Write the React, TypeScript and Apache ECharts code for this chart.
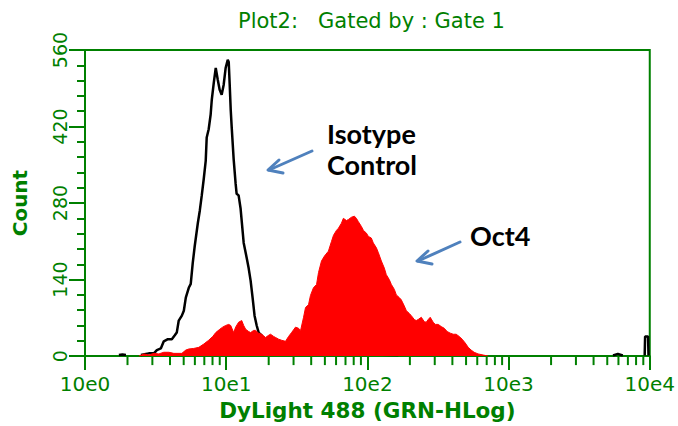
import React, { useEffect, useRef } from "react";
import * as echarts from "echarts";

// x positions are in decades (log10 of fluorescence), y are counts; null = no events (gap)
const isotypeX = [0.240, 0.265, 0.290, 0.300, 0.396, 0.431, 0.452, 0.488, 0.509, 0.537, 0.558, 0.587, 0.615, 0.636, 0.650, 0.664, 0.686, 0.700, 0.714, 0.735, 0.749, 0.763, 0.777, 0.799, 0.813, 0.827, 0.841, 0.855, 0.862, 0.876, 0.890, 0.898, 0.912, 0.926, 0.940, 0.954, 0.968, 0.982, 0.996, 1.011, 1.018, 1.025, 1.032, 1.039, 1.053, 1.067, 1.074, 1.088, 1.102, 1.124, 1.145, 1.159, 1.173, 1.187, 1.201, 1.216, 1.230, 1.251, 1.272, 1.300, 1.371, 1.512, 1.724, 2.219, 2.600, 3.740, 3.774, 3.809, 3.900, 3.964, 3.967, 3.988, 3.991];
const isotypeCount = [2, 3, 2, null, 2, 4, 5, 5, 11, 14, 27, 31, 31, 38, 43, 65, 74, 83, 107, 125, 132, 170, 201, 243, 266, 294, 324, 357, 400, 415, 442, 469, 500, 527, 506, 487, 478, 496, 527, 542, 538, 496, 451, 419, 360, 315, 297, 294, 270, 207, 180, 161, 138, 107, 74, 56, 43, 38, 25, 16, 9, 5, 4, 2, null, 1, 4, 1, null, 1, 36, 36, 1];

const oct4X = [0.382, 0.417, 0.452, 0.488, 0.523, 0.558, 0.594, 0.629, 0.686, 0.714, 0.735, 0.770, 0.806, 0.841, 0.876, 0.905, 0.926, 0.954, 0.975, 0.996, 1.018, 1.032, 1.053, 1.067, 1.088, 1.110, 1.124, 1.138, 1.159, 1.173, 1.194, 1.208, 1.230, 1.251, 1.279, 1.300, 1.314, 1.336, 1.350, 1.371, 1.392, 1.420, 1.442, 1.463, 1.491, 1.512, 1.527, 1.548, 1.562, 1.583, 1.597, 1.618, 1.640, 1.654, 1.675, 1.696, 1.724, 1.746, 1.760, 1.781, 1.795, 1.816, 1.830, 1.852, 1.866, 1.887, 1.908, 1.922, 1.936, 1.958, 1.972, 1.993, 2.007, 2.028, 2.042, 2.064, 2.078, 2.099, 2.120, 2.134, 2.155, 2.170, 2.191, 2.205, 2.226, 2.240, 2.261, 2.276, 2.297, 2.311, 2.332, 2.346, 2.360, 2.382, 2.403, 2.417, 2.431, 2.445, 2.466, 2.481, 2.502, 2.523, 2.544, 2.565, 2.587, 2.608, 2.629, 2.650, 2.671, 2.693, 2.714, 2.735, 2.756, 2.784, 2.820, 2.855];
const oct4Count = [0, 4, 2, 5, 4, 7, 7, 5, 5, 11, 13, 14, 16, 22, 29, 36, 43, 49, 53, 56, 58, 56, 43, 53, 62, 65, 56, 49, 45, 43, 47, 47, 42, 40, 34, 38, 40, 36, 34, 31, 29, 27, 36, 43, 53, 51, 47, 71, 89, 94, 111, 125, 131, 153, 174, 183, 192, 210, 221, 230, 234, 243, 252, 248, 250, 254, 256, 252, 246, 237, 230, 225, 219, 216, 207, 198, 189, 174, 161, 149, 140, 131, 122, 112, 107, 103, 92, 83, 78, 74, 67, 65, 67, 71, 63, 62, 67, 71, 62, 58, 58, 54, 51, 45, 42, 40, 40, 36, 31, 24, 16, 11, 7, 4, 2, 0];

const decadeTicks = [0, 1, 2, 3, 4];
const minorMultipliers = [2, 3, 4, 5, 6, 7, 8, 9];
const yTicks = { min: 0, max: 560, interval: 140 };

const GREEN = "#008000";
const AXIS_FONT = "DejaVu Sans";

export default function App() {
  const ref = useRef<HTMLDivElement>(null);
  useEffect(() => {
    if (!ref.current) return;
    const chart = echarts.init(ref.current, null, { renderer: "svg" });
    const minorPositions: number[][] = [];
    decadeTicks.slice(0, -1).forEach((d) => {
      minorMultipliers.forEach((m) => minorPositions.push([d + Math.log10(m), 0]));
    });
    const arrowStyle = { stroke: "#4F81BD", lineWidth: 3, lineCap: "round", lineJoin: "round", fill: null };
    chart.setOption({
      animation: false,
      grid: {
        left: 85, right: 26, top: 50, bottom: 67,
        show: true, borderColor: GREEN, borderWidth: 2, backgroundColor: "#fff",
      },
      xAxis: {
        type: "value",
        min: decadeTicks[0],
        max: decadeTicks[decadeTicks.length - 1],
        interval: 1,
        axisLine: { show: true, onZero: false, lineStyle: { color: GREEN, width: 2 } },
        axisTick: { show: true, length: 14, lineStyle: { color: GREEN, width: 2 } },
        axisLabel: {
          formatter: (v: number) => "10e" + v,
          color: GREEN, fontFamily: AXIS_FONT, fontSize: 20, margin: 18,
        },
        splitLine: { show: false },
        name: "DyLight 488 (GRN-HLog)",
        nameLocation: "middle",
        nameGap: 38,
        nameTextStyle: { color: GREEN, fontFamily: AXIS_FONT, fontSize: 21.5, fontWeight: "bold" },
      },
      yAxis: {
        type: "value",
        min: yTicks.min,
        max: yTicks.max,
        interval: yTicks.interval,
        axisLine: { show: true, lineStyle: { color: GREEN, width: 2 } },
        axisTick: { show: true, length: 16, lineStyle: { color: GREEN, width: 2 } },
        minorTick: { show: true, splitNumber: 5, length: 8, lineStyle: { color: GREEN, width: 2 } },
        axisLabel: {
          rotate: 90, color: GREEN, fontFamily: AXIS_FONT, fontSize: 19, margin: 16,
        },
        splitLine: { show: false },
        minorSplitLine: { show: false },
        name: "Count",
        nameLocation: "middle",
        nameRotate: 90,
        nameGap: 55,
        nameTextStyle: { color: GREEN, fontFamily: AXIS_FONT, fontSize: 20, fontWeight: "bold" },
      },
      graphic: [
        {
          type: "text", left: 238, top: 10,
          style: { text: "Plot2:   Gated by : Gate 1", fill: GREEN, font: `21px "${AXIS_FONT}"` },
        },
        {
          type: "text", left: 327, top: 118,
          style: { text: "Isotype\nControl", fill: "#000", font: `bold 27px Lato`, lineHeight: 31 },
        },
        {
          type: "text", left: 470, top: 222,
          style: { text: "Oct4", fill: "#000", font: `bold 27px Lato` },
        },
        { type: "polyline", shape: { points: [[312, 151], [269, 170]] }, style: arrowStyle },
        { type: "polyline", shape: { points: [[279, 160], [268, 170], [283, 173]] }, style: arrowStyle },
        { type: "polyline", shape: { points: [[460, 242], [418, 261]] }, style: arrowStyle },
        { type: "polyline", shape: { points: [[428, 251], [417, 261], [432, 264]] }, style: arrowStyle },
      ],
      series: [
        {
          type: "line",
          data: isotypeX.map((x, i) => [x, isotypeCount[i] === null ? "-" : isotypeCount[i]]),
          showSymbol: false,
          connectNulls: false,
          lineStyle: { color: "#000", width: 2.5 },
          z: 2,
        },
        {
          type: "line",
          data: oct4X.map((x, i) => [x, oct4Count[i]]),
          showSymbol: false,
          lineStyle: { color: "#ff0000", width: 1 },
          areaStyle: { color: "#ff0000", opacity: 1 },
          z: 3,
        },
        {
          type: "custom",
          silent: true,
          clip: false,
          data: minorPositions,
          renderItem: (params: any, api: any) => {
            const p = api.coord([api.value(0), 0]);
            return {
              type: "line",
              shape: { x1: p[0], y1: p[1], x2: p[0], y2: p[1] + 9 },
              style: { stroke: GREEN, lineWidth: 2 },
            };
          },
          z: 4,
        },
      ],
    });
    return () => chart.dispose();
  }, []);
  return (
    <div
      ref={ref}
      style={{ position: "fixed", left: 0, top: 0, width: 678, height: 426, background: "#fff" }}
    />
  );
}
